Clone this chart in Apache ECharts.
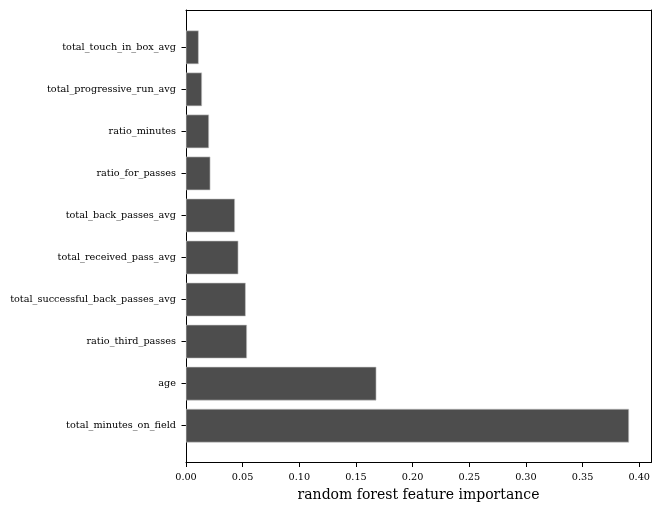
<!DOCTYPE html>
<html><head><meta charset="utf-8">
<script src="https://cdn.jsdelivr.net/npm/echarts@6/dist/echarts.min.js"></script>
<style>html,body{margin:0;padding:0;background:#fff}#c{width:661px;height:511px}</style>
</head><body><div id="c"></div>
<script>
const categories = ["total_minutes_on_field","age","ratio_third_passes","total_successful_back_passes_avg","total_received_pass_avg","total_back_passes_avg","ratio_for_passes","ratio_minutes","total_progressive_run_avg","total_touch_in_box_avg"];
const importance = [0.391,0.168,0.0538,0.0527,0.0462,0.0432,0.0215,0.0203,0.0141,0.0112];
const xTicks = [0,0.05,0.10,0.15,0.20,0.25,0.30,0.35,0.40];
const font = "DejaVu Serif";
const xMax = 0.4104;
const chart = echarts.init(document.getElementById('c'));
const frameLine = {show:true,onZero:false,lineStyle:{color:'#000',width:1}};
chart.setOption({
  animation:false,
  grid:[
    {left:186,right:10,top:10,bottom:48.5},
    {left:186,right:10,top:26.3,bottom:64.3}
  ],
  xAxis:[
    {gridIndex:0,type:'value',min:0,max:xMax,
      axisLine:frameLine,
      axisTick:{show:true,customValues:xTicks,length:4.5,lineStyle:{color:'#000'}},
      axisLabel:{customValues:xTicks,formatter:v=>v.toFixed(2),fontFamily:font,fontSize:9.7,color:'#000',margin:10},
      splitLine:{show:false},
      name:'random forest feature importance',nameLocation:'middle',nameGap:33,
      nameTextStyle:{fontFamily:font,fontSize:14,color:'#000',verticalAlign:'middle'}},
    {gridIndex:0,type:'value',position:'top',min:0,max:xMax,axisLine:frameLine,axisTick:{show:false},axisLabel:{show:false},splitLine:{show:false}},
    {gridIndex:1,type:'value',min:0,max:xMax,show:false}
  ],
  yAxis:[
    {gridIndex:0,type:'value',min:0,max:1,axisLine:frameLine,axisTick:{show:false},axisLabel:{show:false},splitLine:{show:false}},
    {gridIndex:0,type:'value',position:'right',min:0,max:1,axisLine:frameLine,axisTick:{show:false},axisLabel:{show:false},splitLine:{show:false}},
    {gridIndex:1,type:'category',data:categories,boundaryGap:true,
      axisLine:{show:false},
      axisTick:{show:true,alignWithLabel:true,length:4.5,lineStyle:{color:'#000'}},
      axisLabel:{fontFamily:font,fontSize:9.7,color:'#000',margin:10},
      splitLine:{show:false}}
  ],
  series:[{type:'bar',xAxisIndex:2,yAxisIndex:2,barWidth:'80%',
    data:importance,
    itemStyle:{color:'#4d4d4d',borderColor:'#c8c8c8',borderWidth:0.6}}]
});
</script></body></html>
